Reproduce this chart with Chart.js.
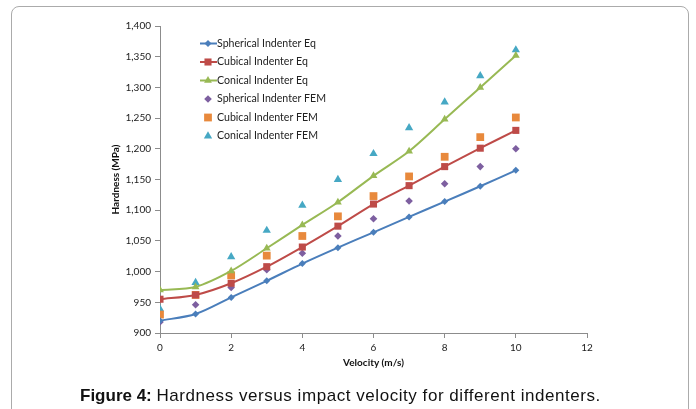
<!DOCTYPE html>
<html>
<head>
<meta charset="utf-8">
<script src="https://cdn.jsdelivr.net/npm/chart.js@4.4.0/dist/chart.umd.min.js"></script>
<style>
  body { margin: 0; background: #fff; width: 696px; height: 409px; overflow: hidden; position: relative; }
  #frame { position: absolute; left: 11px; top: 6px; width: 676px; height: 410px; border: 1px solid #ababab; border-radius: 8px; }
  #chart-canvas { position: absolute; left: 0; top: 0; }
  #caption { position: absolute; left: 80px; top: 386px; font-family: "Liberation Sans", Arial, sans-serif; font-size: 17px; white-space: nowrap; color: #111; }
  #caption span { letter-spacing: 0.55px; }
</style>
</head>
<body>
<div id="frame"></div>
<canvas id="chart-canvas" width="696" height="409"></canvas>
<div id="caption"><b>Figure 4:</b> <span>Hardness versus impact velocity for different indenters.</span></div>
<script>
// velocity (m/s)
let velocity = [0, 1, 2, 3, 4, 5, 6, 7, 8, 9, 10];

// hardness (MPa)
let sphericalEq = [920, 931, 958, 985, 1013, 1039, 1064, 1089, 1114, 1139, 1165];
let cubicalEq = [955, 962, 981, 1008, 1040, 1074, 1110, 1140, 1171, 1201, 1230];
let conicalEq = [970, 975, 1001, 1038, 1076, 1113, 1156, 1196, 1248, 1300, 1352];
let sphericalFem = [918, 946, 974, 1003, 1030, 1058, 1086, 1115, 1143, 1171, 1200];
let cubicalFem = [930, 962, 994, 1026, 1058, 1090, 1123, 1155, 1187, 1219, 1251];
let conicalFem = [939, 982, 1024, 1067, 1108, 1150, 1192, 1234, 1276, 1319, 1361];

let seriesNames = [
  "Spherical Indenter Eq",
  "Cubical Indenter Eq",
  "Conical Indenter Eq",
  "Spherical Indenter FEM",
  "Cubical Indenter FEM",
  "Conical Indenter FEM"
];

function points(values) {
  return values.map(function (v, i) {
    return { x: velocity[i], y: v };
  });
}

function lineSet(label, values, color, style, radius) {
  return {
    label: label,
    data: points(values),
    showLine: true,
    borderColor: color,
    backgroundColor: color,
    borderWidth: 2,
    tension: 0.3,
    pointStyle: style,
    pointRadius: radius,
    pointBorderWidth: 0,
    pointBackgroundColor: color,
    pointBorderColor: color
  };
}

function dotSet(label, values, color, style, radius) {
  return {
    label: label,
    data: points(values),
    showLine: false,
    borderColor: color,
    backgroundColor: color,
    pointStyle: style,
    pointRadius: radius,
    pointBorderWidth: 0,
    pointBackgroundColor: color,
    pointBorderColor: color
  };
}

// legend drawn inside the plot, Excel style
let insideLegend = {
  id: "insideLegend",
  afterDraw: function (c) {
    let ctx = c.ctx;
    let x0 = 200, y0 = 43.5, gap = 18.5;
    ctx.save();
    ctx.font = "10.6px Lato, 'Open Sans', sans-serif";
    ctx.textBaseline = "middle";
    c.data.datasets.forEach(function (ds, i) {
      let y = y0 + i * gap;
      if (ds.showLine) {
        ctx.strokeStyle = ds.borderColor;
        ctx.lineWidth = 2;
        ctx.beginPath();
        ctx.moveTo(x0, y);
        ctx.lineTo(x0 + 17, y);
        ctx.stroke();
      }
      ctx.fillStyle = ds.pointBackgroundColor;
      Chart.helpers.drawPoint(ctx, { pointStyle: ds.pointStyle, radius: ds.pointRadius, borderWidth: 0 }, x0 + 8, y);
      ctx.fillStyle = "#222";
      ctx.fillText(ds.label, x0 + 17, y);
    });
    ctx.restore();
  }
};

let chart = document.getElementById("chart-canvas").getContext("2d");

let chart1 = new Chart(chart, {
  type: "scatter",
  data: {
    datasets: [
      lineSet(seriesNames[0], sphericalEq, "#4a7ebb", "rectRot", 3.5),
      lineSet(seriesNames[1], cubicalEq, "#be4b48", "rect", 5),
      lineSet(seriesNames[2], conicalEq, "#98b954", "triangle", 4.5),
      dotSet(seriesNames[3], sphericalFem, "#7d5fa0", "rectRot", 3.8),
      dotSet(seriesNames[4], cubicalFem, "#e8893c", "rect", 5.5),
      dotSet(seriesNames[5], conicalFem, "#46a8c4", "triangle", 4.8)
    ]
  },
  options: {
    responsive: false,
    animation: false,
    layout: { padding: { left: 100, right: 109, top: 26, bottom: 36 } },
    plugins: {
      legend: { display: false },
      tooltip: { enabled: false }
    },
    scales: {
      x: {
        type: "linear",
        min: 0,
        max: 12,
        ticks: { stepSize: 2, padding: 4, color: "#222", font: { family: "Lato", size: 10 } },
        grid: { drawOnChartArea: false, tickLength: 5, color: "#8c8c8c" },
        border: { color: "#8c8c8c", width: 1 },
        title: { display: true, text: "Velocity (m/s)", color: "#111", padding: { top: 4, bottom: 4 }, font: { family: "Lato", size: 10, weight: "bold" } },
        afterFit: function (scale) { scale.height = 40; }
      },
      y: {
        min: 900,
        max: 1400,
        ticks: {
          stepSize: 50,
          padding: 4,
          color: "#222",
          font: { family: "Lato", size: 10 },
          callback: function (v) { return v.toLocaleString("en-US"); }
        },
        grid: { drawOnChartArea: false, tickLength: 5, color: "#8c8c8c" },
        border: { color: "#8c8c8c", width: 1 },
        title: { display: true, text: "Hardness (MPa)", color: "#111", padding: { top: 10, bottom: 2 }, font: { family: "Lato", size: 10, weight: "bold" } },
        afterFit: function (scale) { scale.width = 60; }
      }
    }
  },
  plugins: [insideLegend]
});
</script>
</body>
</html>
